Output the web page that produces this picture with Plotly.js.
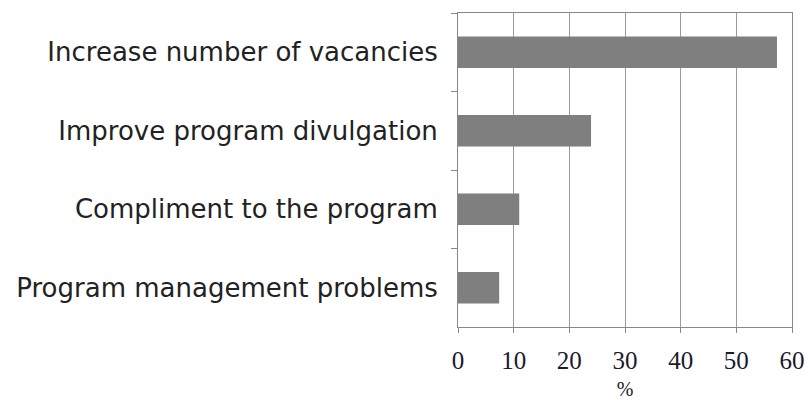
<!DOCTYPE html>
<html><head><meta charset="utf-8">
<script src="https://cdn.plot.ly/plotly-3.0.1.min.js"></script>
<style>html,body{margin:0;padding:0;background:#fff}</style>
</head><body>
<div id="chart" style="width:810px;height:400px"></div>
<script>
const categories = ["Increase number of vacancies","Improve program divulgation","Compliment to the program","Program management problems"];
const values = [57.3, 23.9, 11.0, 7.4];
const xTicks = [0,10,20,30,40,50,60];

Plotly.newPlot('chart', [{
  type: 'bar', orientation: 'h',
  y: categories, x: values,
  marker: {color: '#7f7f7f'},
  hoverinfo: 'none'
}], {
  width: 810, height: 400,
  margin: {l: 458, r: 18, t: 13, b: 73},
  paper_bgcolor: '#fff', plot_bgcolor: '#fff',
  bargap: 0.6,
  showlegend: false,
  xaxis: {
    range: [0, 60], tickvals: xTicks, ticktext: xTicks.map(String),
    showgrid: true, gridcolor: '#999', gridwidth: 1,
    showline: true, linecolor: '#888', linewidth: 1, mirror: true,
    ticks: 'outside', ticklen: 5, tickcolor: '#888',
    zeroline: false,
    ticklabelstandoff: 6,
    tickfont: {family: 'Liberation Serif, serif', size: 25, color: '#1a1a2e'},
    title: {text: '%', font: {family: 'Liberation Serif, serif', size: 20, color: '#1a1a2e'}, standoff: 8}
  },
  yaxis: {
    type: 'category', autorange: 'reversed',
    tickson: 'boundaries', ticks: 'outside', ticklen: 6, tickcolor: '#888',
    showline: true, linecolor: '#888', linewidth: 1, mirror: true,
    showgrid: false, zeroline: false,
    ticklabelstandoff: 14,
    tickfont: {family: 'DejaVu Sans, sans-serif', size: 26, color: '#222'}
  }
}, {staticPlot: true});
</script>
</body></html>
